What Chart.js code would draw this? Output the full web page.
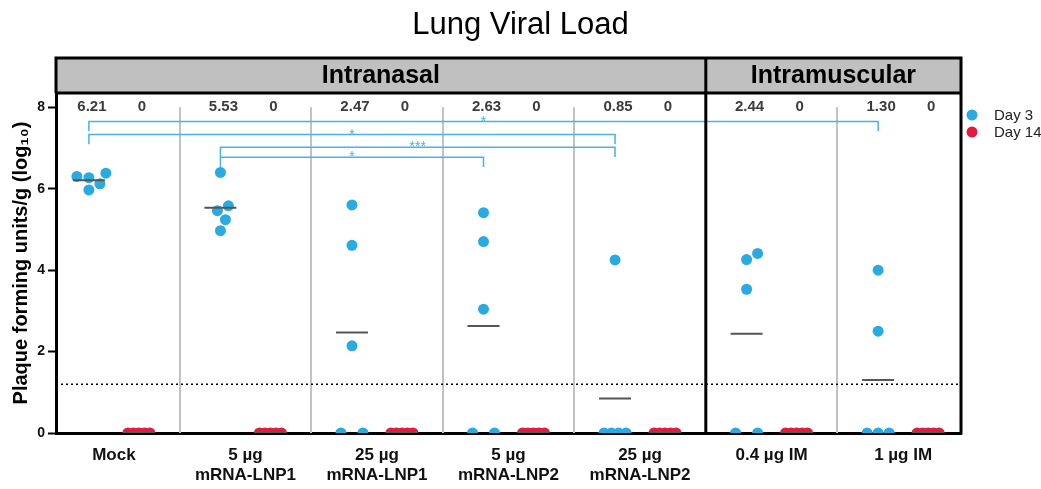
<!DOCTYPE html>
<html>
<head>
<meta charset="utf-8">
<title>Lung Viral Load</title>
<script src="https://cdn.jsdelivr.net/npm/chart.js@4.4.1/dist/chart.umd.min.js"></script>
<style>
  html, body { margin: 0; padding: 0; background: #fff; }
  #wrap { width: 1041px; height: 489px; position: relative; }
</style>
</head>
<body>
<div id="wrap"><canvas id="chart"></canvas></div>
<script>
// --- data ---
const groups = [['Mock'], ['5 µg', 'mRNA-LNP1'], ['25 µg', 'mRNA-LNP1'], ['5 µg', 'mRNA-LNP2'],
                ['25 µg', 'mRNA-LNP2'], ['0.4 µg IM'], ['1 µg IM']];
const day3 = [
  [6.38, 6.27, 6.30, 6.12, 5.97],
  [6.40, 5.46, 5.58, 5.24, 4.97],
  [5.60, 4.61, 2.14, 0, 0],
  [5.41, 4.70, 3.04, 0, 0],
  [4.25, 0, 0, 0, 0],
  [4.41, 4.26, 3.53, 0, 0],
  [4.00, 2.50, 0, 0, 0]
];
const day14 = [
  [0, 0, 0, 0, 0], [0, 0, 0, 0, 0], [0, 0, 0, 0, 0], [0, 0, 0, 0, 0],
  [0, 0, 0, 0, 0], [0, 0, 0, 0, 0], [0, 0, 0, 0, 0]
];
const routes = ['Intranasal', 'Intramuscular'];
const routeGroups = [5, 2];          // groups per route
const yTicks = [0, 2, 4, 6, 8];
const lod = 1.2;                      // limit of detection
const sigPairs = [[0, 6], [0, 4], [1, 4], [1, 3]];
const sigLabels = ['*', '*', '***', '*'];
const sigLevels = [7.65, 7.33, 7.02, 6.77];

// --- look ---
const BLUE = '#29abe2', RED = '#e31b3d', SIG = '#45b5e6', MEAN = '#555';
const Y_MAX = 8.35, X_MIN = -0.44, X_MAX = 6.44;
const D3 = -0.19, D14 = 0.19, DOT = 5.5, DROP = 0.24;
const PX_X = 905 / (X_MAX - X_MIN), PX_Y = 340 / Y_MAX;

Chart.defaults.font.family = "'Liberation Sans', Arial, sans-serif";
Chart.defaults.color = '#111';

// simple beeswarm: ties spread in a row, others pushed sideways until they don't overlap
function swarm(vals) {
  const order = vals.map((v, i) => i).sort((a, b) => vals[a] - vals[b]);
  const counts = {}, seen = {};
  vals.forEach(v => counts[v] = (counts[v] || 0) + 1);
  const off = [], placed = [];
  order.forEach(i => {
    const v = vals[i], n = counts[v], py = v * PX_Y;
    let dx = 0;
    if (n > 1) {
      const k = seen[v] = (seen[v] || 0) + 1;
      dx = (k - 1 - (n - 1) / 2) * 22 / (n - 1);
    } else {
      for (let d = 0; d < 60; d++) {
        const c = [d, -d].find(t => placed.every(p => Math.hypot(p[0] - t, p[1] - py) >= 12));
        if (c !== undefined) { dx = c; break; }
      }
    }
    placed.push([dx, py]);
    off[i] = dx / PX_X;
  });
  return off;
}

const meanOf = a => a.reduce((s, v) => s + v, 0) / a.length;
const points = (sets, shift) => sets.flatMap((vals, g) => {
  const off = swarm(vals);
  return vals.map((v, i) => ({ x: g + shift + off[i], y: v }));
});
const means = day3.map((v, g) => ({ x: g + D3, y: meanOf(v) }))
  .concat(day14.map((v, g) => ({ x: g + D14, y: meanOf(v) })));

const brackets = sigPairs.map(([a, b], i) => ({
  showLine: true, pointRadius: 0, borderColor: SIG, borderWidth: 1.5,
  data: [{ x: a + D3, y: sigLevels[i] - DROP }, { x: a + D3, y: sigLevels[i] },
         { x: b + D3, y: sigLevels[i] }, { x: b + D3, y: sigLevels[i] - DROP }]
}));

const decor = {
  id: 'decor',
  beforeDatasetsDraw(chart) {
    const { ctx, chartArea: ca, scales: { x, y } } = chart;
    ctx.save();
    ctx.strokeStyle = '#c2c2c2'; ctx.lineWidth = 2;
    for (let k = 0; k < groups.length - 1; k++) {
      if (k === routeGroups[0] - 1) continue;
      const px = Math.round(x.getPixelForValue(k + 0.5));
      ctx.beginPath(); ctx.moveTo(px, y.getPixelForValue(8)); ctx.lineTo(px, ca.bottom); ctx.stroke();
    }
    ctx.restore();
  },
  afterDraw(chart) {
    const { ctx, chartArea: ca, scales: { x, y } } = chart;
    const top = 58, split = x.getPixelForValue(routeGroups[0] - 0.5);
    ctx.save();
    // header band
    ctx.fillStyle = '#c0c0c0';
    ctx.fillRect(ca.left, top, ca.right - ca.left, ca.top - top);
    ctx.fillStyle = '#000';
    ctx.font = "bold 25px 'Liberation Sans', Arial, sans-serif";
    ctx.textAlign = 'center'; ctx.textBaseline = 'middle';
    ctx.fillText(routes[0], (ca.left + split) / 2, (top + ca.top) / 2 + 1);
    ctx.fillText(routes[1], (split + ca.right) / 2, (top + ca.top) / 2 + 1);
    ctx.strokeStyle = '#000'; ctx.lineWidth = 3;
    ctx.beginPath();
    ctx.moveTo(ca.left - 1.5, top); ctx.lineTo(ca.right + 1.5, top);
    ctx.moveTo(ca.left, top); ctx.lineTo(ca.left, ca.top);
    ctx.moveTo(ca.left, ca.top); ctx.lineTo(ca.right, ca.top);
    ctx.moveTo(ca.right, top); ctx.lineTo(ca.right, ca.bottom + 1.5);
    ctx.moveTo(split, top); ctx.lineTo(split, ca.bottom);
    ctx.stroke();
    // group means above the plot
    ctx.fillStyle = '#3c3c3c';
    ctx.font = "bold 15px 'Liberation Sans', Arial, sans-serif";
    means.forEach(m => {
      ctx.fillText(m.y === 0 ? '0' : m.y.toFixed(2), x.getPixelForValue(m.x) + 3, y.getPixelForValue(8));
    });
    // significance stars
    ctx.fillStyle = SIG;
    ctx.font = "14px 'Liberation Sans', Arial, sans-serif";
    ctx.textBaseline = 'alphabetic';
    sigPairs.forEach(([a, b], i) => {
      const cx = (x.getPixelForValue(a + D3) + x.getPixelForValue(b + D3)) / 2;
      ctx.fillText(sigLabels[i], cx, y.getPixelForValue(sigLevels[i]) + 4);
    });
    // legend
    ctx.textAlign = 'left'; ctx.textBaseline = 'middle';
    ctx.font = "15px 'Liberation Sans', Arial, sans-serif";
    chart.data.datasets.filter(d => d.inLegend).forEach((d, i) => {
      const ly = 115 + i * 17;
      ctx.fillStyle = d.backgroundColor;
      ctx.beginPath(); ctx.arc(ca.right + 11, ly, DOT, 0, Math.PI * 2); ctx.fill();
      ctx.fillStyle = '#222';
      ctx.fillText(d.label, ca.right + 33, ly + 1);
    });
    ctx.restore();
  }
};

new Chart(document.getElementById('chart'), {
  type: 'scatter',
  data: {
    datasets: [
      { label: 'mean', data: means, pointStyle: 'line', pointRadius: 16, borderColor: MEAN, borderWidth: 2 },
      { label: 'Day 3', inLegend: true, data: points(day3, D3), backgroundColor: BLUE, borderWidth: 0, pointRadius: DOT },
      { label: 'Day 14', inLegend: true, data: points(day14, D14), backgroundColor: RED, borderWidth: 0, pointRadius: DOT },
      ...brackets,
      { label: 'LOD', data: [{ x: X_MIN, y: lod }, { x: X_MAX, y: lod }], showLine: true, pointRadius: 0,
        borderColor: '#000', borderWidth: 1.5, borderDash: [2, 3] }
    ]
  },
  options: {
    responsive: true,
    maintainAspectRatio: false,
    animation: false,
    events: [],
    plugins: {
      legend: { display: false },
      tooltip: { enabled: false },
      title: {
        display: true, text: 'Lung Viral Load', color: '#000',
        font: { size: 31, weight: 'normal' }, padding: { top: 7, bottom: 48.8 }
      }
    },
    scales: {
      x: {
        type: 'linear', min: X_MIN, max: X_MAX,
        grid: { display: false },
        border: { display: true, color: '#000', width: 3 },
        afterBuildTicks: s => { s.ticks = groups.map((g, i) => ({ value: i })); },
        afterFit: s => { s.height = 56; },
        ticks: {
          autoSkip: false, maxRotation: 0, padding: 4,
          font: { size: 17, weight: 'bold', lineHeight: 1.18 }, color: '#111',
          callback: v => groups[v]
        }
      },
      y: {
        min: 0, max: Y_MAX,
        grid: { drawOnChartArea: false, tickLength: 8, tickWidth: 2, tickColor: '#000' },
        border: { display: true, color: '#000', width: 3 },
        afterBuildTicks: s => { s.ticks = yTicks.map(v => ({ value: v })); },
        afterFit: s => { s.width = 56; },
        ticks: { padding: 3, font: { size: 14, weight: 'bold' }, color: '#111' },
        title: {
          display: true, text: 'Plaque forming units/g (log₁₀)', color: '#000',
          font: { size: 20, weight: 'bold' }, padding: { top: 9, bottom: 0 }
        }
      },
      // empty strip on the right that holds the legend
      side: {
        position: 'right', display: true,
        grid: { display: false }, border: { display: false }, ticks: { display: false },
        afterFit: s => { s.width = 80; }
      }
    }
  },
  plugins: [decor]
});
</script>
</body>
</html>
